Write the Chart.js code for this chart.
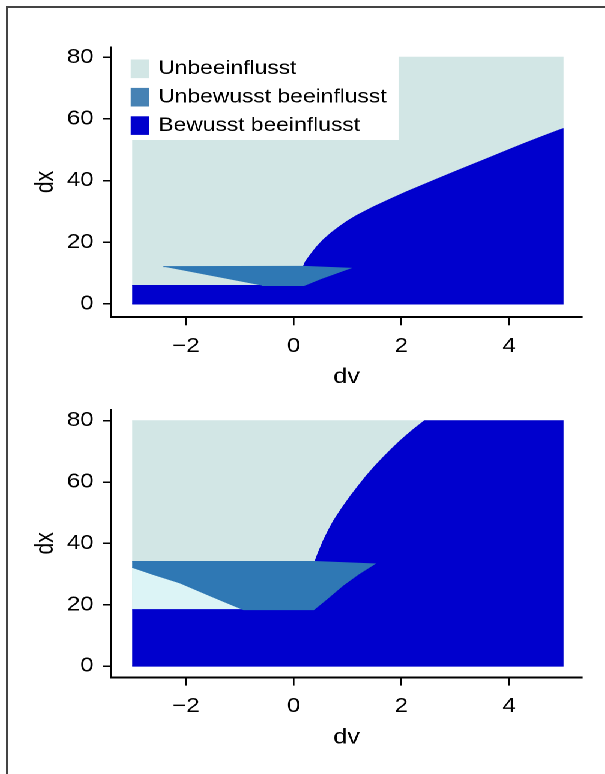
<!DOCTYPE html>
<html>
<head>
<meta charset="utf-8">
<script src="https://cdn.jsdelivr.net/npm/chart.js@4.4.1/dist/chart.umd.min.js"></script>
<style>
    html, body { margin: 0; padding: 0; background: #fff; }
    body { width: 605px; height: 774px; position: relative; overflow: hidden; }
    #rahmen {
        position: absolute; left: 6px; top: 6px; width: 700px; height: 800px;
        border-left: 2px solid #444; border-top: 2px solid #444;
    }
    /* die Schrift im Original ist breit gezogen -> ganze Grafik in x strecken */
    #breit { position: absolute; left: 0; top: 0; width: 504px; transform: scaleX(1.2004); transform-origin: 0 0; }
    .panel { position: relative; width: 504px; }
    #p1 { height: 390px; }
    #p2 { height: 384px; }
</style>
</head>
<body>
<div id="rahmen"></div>
<div id="breit">
    <div class="panel" id="p1"><canvas id="oben"></canvas></div>
    <div class="panel" id="p2"><canvas id="unten"></canvas></div>
</div>

<script>
/* ===============================
   DATEN
================================= */
const kategorien = ["Unbeeinflusst", "Unbewusst beeinflusst", "Bewusst beeinflusst"];

const xTicks = [-2, 0, 2, 4];
const xTickLabels = ["\u22122", "0", "2", "4"];
const yTicks = [0, 20, 40, 60, 80];
const yTickLabels = ["0", "20", "40", "60", "80"];

// oberes Panel
const oUnbeeinDv = [-3, 5, 5, -3];
const oUnbeeinDx = [0, 0, 80, 80];
const oBewusstDv = [-3, 5, 5, 4.95, 4.60, 4.26, 3.95, 3.64, 3.33, 3.02, 2.70, 2.40, 2.10, 1.79, 1.47, 1.16, 1.00, 0.86, 0.70, 0.55, 0.42, 0.30, 0.22, 0.18, 0.18, -3];
const oBewusstDx = [0, 0, 56.8, 56.5, 54.2, 51.9, 49.7, 47.5, 45.3, 43.1, 40.8, 38.6, 36.4, 34.0, 31.4, 28.6, 26.9, 25.2, 23.1, 20.8, 18.4, 15.7, 13.7, 12.1, 6, 6];
const oUnbewusstDv = [-2.42, 0.18, 1.04, 0.5, 0.19, -0.59];
const oUnbewusstDx = [12.1, 12.2, 11.6, 8.2, 6, 6];

// unteres Panel
const uUnbeeinDv = [-3, 5, 5, -3];
const uUnbeeinDx = [0, 0, 80, 80];
const uHellDv = [-3, -0.93, -1.25, -1.56, -2.11, -2.61, -3];
const uHellDx = [18.4, 18.4, 20.7, 23.0, 27.1, 29.9, 32.2];
const uBewusstDv = [-3, 5, 5, 2.43, 2.22, 2.10, 1.97, 1.82, 1.66, 1.50, 1.35, 1.20, 1.05, 0.90, 0.74, 0.64, 0.55, 0.45, 0.39, 0.37, -3];
const uBewusstDx = [0, 0, 80, 80, 77.1, 75.3, 73.3, 70.8, 68.0, 65.0, 62.0, 58.7, 55.3, 51.6, 47.3, 44.0, 40.8, 36.6, 33.8, 18.4, 18.4];
const uUnbewusstDv = [-3, 0.38, 1.5, 1.2, 0.91, 0.62, 0.37, -0.93, -1.25, -1.56, -2.11, -2.61, -3];
const uUnbewusstDx = [34.1, 34.1, 33.3, 30.0, 26.3, 22.0, 18.4, 18.4, 20.7, 23.0, 27.1, 29.9, 32.2];

/* ===============================
   FARBEN / LAYOUT
================================= */
const S = 605 / 504;
const grau = "#d2e6e5";
const hell = "#dcf4f6";
const stahl = "#2f78b4";
const blau = "#0000cd";
const legendFarben = ["#d2e6e5", "#4682b4", "#0000cd"];

Chart.defaults.font.family = "'Liberation Sans', Arial, sans-serif";
Chart.defaults.color = "#000";

function punkte(xs, ys) {
    return xs.map((x, i) => ({ x: x, y: ys[i] }));
}

function flaeche(label, xs, ys, farbe, order) {
    return {
        label: label,
        data: punkte(xs, ys),
        backgroundColor: farbe,
        borderColor: farbe,
        borderWidth: 1,
        fill: "shape",
        pointRadius: 0,
        pointHoverRadius: 0,
        tension: 0,
        order: order
    };
}

function achsen(xMin, xMax, yMin, yMax) {
    return {
        x: {
            type: "linear",
            min: xMin,
            max: xMax,
            afterBuildTicks: a => { a.ticks = xTicks.map(v => ({ value: v })); },
            afterFit: a => { a.height = 73; },
            ticks: {
                callback: v => xTickLabels[xTicks.indexOf(v)],
                font: { size: 20 },
                padding: 9,
                maxRotation: 0,
                autoSkip: false
            },
            grid: { drawOnChartArea: false, drawTicks: true, tickLength: 8.3, color: "#000", lineWidth: 1.3 },
            border: { display: true, color: "#000", width: 2 },
            title: { display: true, text: "dv", font: { size: 21 }, padding: 0 }
        },
        y: {
            type: "linear",
            min: yMin,
            max: yMax,
            afterBuildTicks: a => { a.ticks = yTicks.map(v => ({ value: v })); },
            afterFit: a => { a.width = 111 / S; },
            ticks: {
                callback: v => yTickLabels[yTicks.indexOf(v)],
                font: { size: 20 },
                padding: 7.5,
                autoSkip: false
            },
            grid: { drawOnChartArea: false, drawTicks: true, tickLength: 8.3 / S, color: "#000", lineWidth: 1.5 },
            border: { display: true, color: "#000", width: 1.7 / S },
            title: { display: true, text: "dx", font: { size: 21 }, padding: { top: 25.4, bottom: 0 } }
        }
    };
}

/* ===============================
   LEGENDE (weisser Kasten oben links)
================================= */
const legende = {
    id: "legende",
    afterDatasetsDraw(chart) {
        const ctx = chart.ctx;
        const ca = chart.chartArea;
        ctx.save();
        ctx.fillStyle = "#fff";
        ctx.fillRect(ca.left + 1.2, ca.top, 398.5 / S - ca.left - 1.2, 140 - ca.top);
        ctx.font = "19px 'Liberation Sans', Arial, sans-serif";
        ctx.textBaseline = "middle";
        ctx.textAlign = "left";
        kategorien.forEach((k, i) => {
            const top = 59.5 + i * 28.4;
            ctx.fillStyle = legendFarben[i];
            ctx.fillRect(130.7 / S, top, 18.6 / S, 18.6);
            ctx.fillStyle = "#000";
            ctx.fillText(k, 158.4 / S, top + 9.3);
        });
        ctx.restore();
    }
};

function optionen(xMin, xMax, yMin, yMax, pad) {
    return {
        responsive: true,
        maintainAspectRatio: false,
        devicePixelRatio: 2,
        animation: false,
        events: [],
        layout: { padding: pad },
        plugins: { legend: { display: false }, tooltip: { enabled: false } },
        scales: achsen(xMin, xMax, yMin, yMax)
    };
}

new Chart(document.getElementById("oben"), {
    type: "line",
    data: {
        datasets: [
            flaeche(kategorien[0], oUnbeeinDv, oUnbeeinDx, grau, 4),
            flaeche(kategorien[2], oBewusstDv, oBewusstDx, blau, 2),
            flaeche(kategorien[1], oUnbewusstDv, oUnbewusstDx, stahl, 1)
        ]
    },
    options: optionen(-3.394, 5.356, -4.22, 83.34, { top: 47, right: 504 - 582 / S, bottom: 0, left: 0 }),
    plugins: [legende]
});

new Chart(document.getElementById("unten"), {
    type: "line",
    data: {
        datasets: [
            flaeche(kategorien[0], uUnbeeinDv, uUnbeeinDx, grau, 4),
            flaeche(kategorien[0], uHellDv, uHellDx, hell, 3),
            flaeche(kategorien[2], uBewusstDv, uBewusstDx, blau, 2),
            flaeche(kategorien[1], uUnbewusstDv, uUnbewusstDx, stahl, 1)
        ]
    },
    options: optionen(-3.394, 5.356, -3.66, 83.66, { top: 18, right: 504 - 582 / S, bottom: 23.7, left: 0 })
});
</script>
</body>
</html>
